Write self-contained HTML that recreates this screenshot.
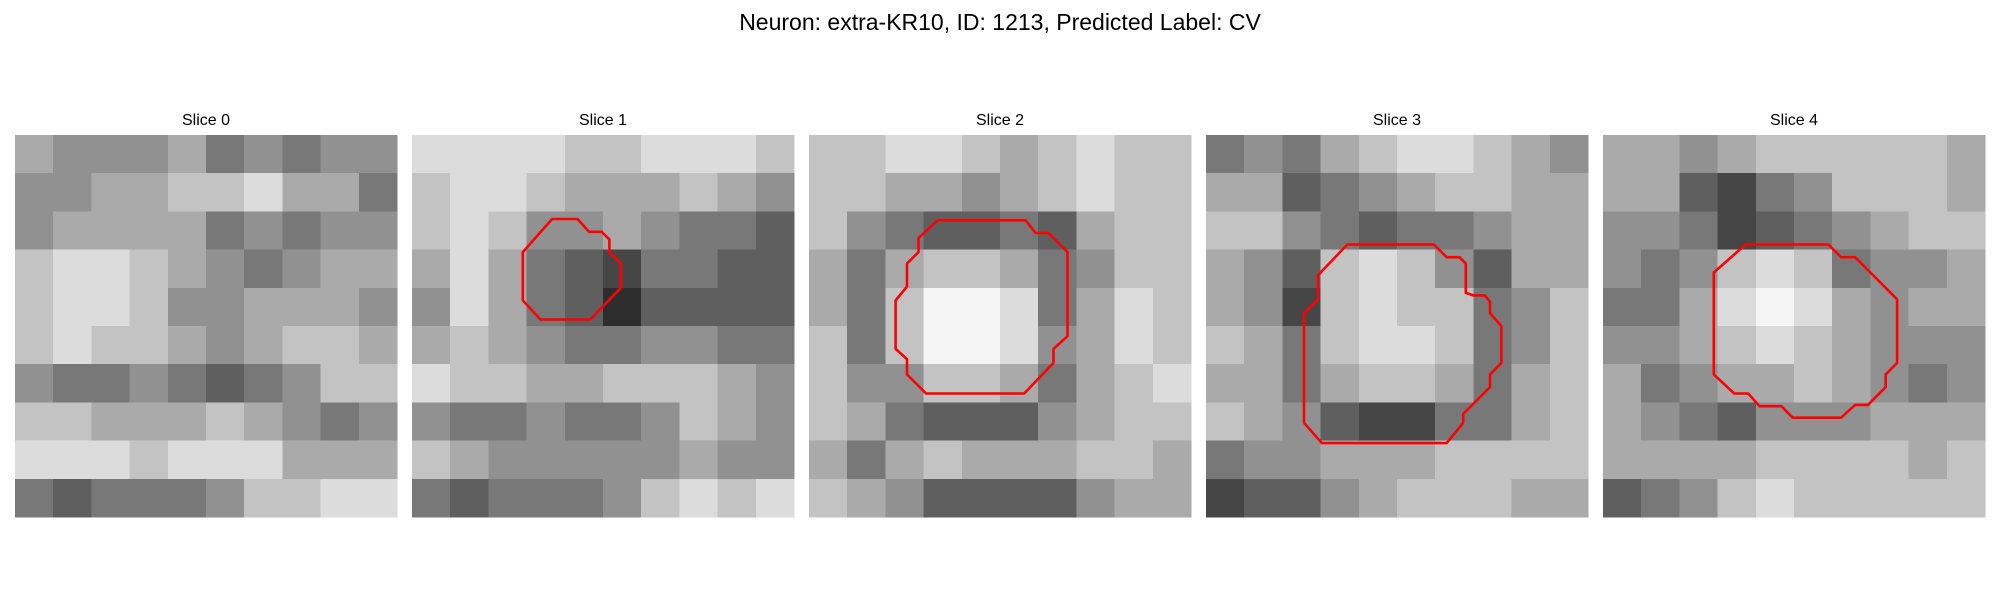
<!DOCTYPE html>
<html><head><meta charset="utf-8">
<style>
html,body{margin:0;padding:0;background:#fff;width:2000px;height:600px;overflow:hidden}
svg{display:block;font-family:"Liberation Sans","DejaVu Sans",sans-serif}
</style></head>
<body>
<svg id="fig" width="2000" height="600" viewBox="0 0 2000 600">
<text x="1000" y="30" text-anchor="middle" font-size="23" fill="#000">Neuron: extra-KR10, ID: 1213, Predicted Label: CV</text>
</svg>
<script>
const sliceTitles = ["Slice 0","Slice 1","Slice 2","Slice 3","Slice 4"];
const panelLefts = [15,412,809,1206,1603];
// coarse intensity grids (10x10, 0=black..9=white) per slice
const slice0 = [
[6,5,5,5,6,4,5,4,5,5],[5,5,6,6,7,7,8,6,6,4],[5,6,6,6,6,4,5,4,5,5],[7,8,8,7,6,5,4,5,6,6],[7,8,8,7,5,5,6,6,6,5],
[7,8,7,7,6,5,6,7,7,6],[5,4,4,5,4,3,4,5,7,7],[7,7,6,6,6,7,6,5,4,5],[8,8,8,7,8,8,8,6,6,6],[4,3,4,4,4,5,7,7,8,8]];
const slice1 = [
[8,8,8,8,7,7,8,8,8,7],[7,8,8,7,6,6,6,7,6,5],[7,8,7,5,5,6,5,4,4,3],[6,8,6,4,3,2,4,4,3,3],[5,8,6,4,3,1,3,3,3,3],
[6,7,6,5,4,4,5,5,4,4],[8,7,7,6,6,7,7,7,6,5],[5,4,4,5,4,4,5,7,6,5],[7,6,5,5,5,5,5,6,5,5],[4,3,4,4,4,5,7,8,7,8]];
const slice2 = [
[7,7,8,8,7,6,7,8,7,7],[7,7,6,6,5,6,7,8,7,7],[7,5,4,3,3,4,3,6,7,7],[6,4,6,7,7,6,4,5,7,7],[6,4,7,9,9,8,4,6,8,7],
[7,4,7,9,9,8,5,6,8,7],[7,5,5,7,7,6,4,6,7,8],[7,6,4,3,3,3,5,6,7,7],[6,4,6,7,6,6,6,7,7,6],[7,6,5,3,3,3,3,5,6,6]];
const slice3 = [
[4,5,4,6,7,8,8,7,6,5],[6,6,3,4,5,6,7,7,6,6],[7,7,5,4,3,4,4,5,6,6],[6,5,3,7,8,7,5,3,6,6],[6,5,2,7,8,7,7,4,5,7],
[7,6,4,7,8,8,7,4,5,7],[6,6,4,6,7,7,6,4,6,7],[7,6,5,3,2,2,4,4,6,7],[4,5,5,6,6,6,7,7,7,7],[2,3,3,5,6,7,7,7,6,6]];
const slice4 = [
[6,6,5,6,7,7,7,7,7,6],[6,6,3,2,4,5,7,7,7,6],[5,5,4,2,3,4,5,6,7,7],[5,4,5,7,8,7,4,5,5,6],[4,4,6,8,9,8,6,5,6,6],
[5,5,6,7,8,7,6,5,5,5],[6,4,5,6,6,7,6,5,4,5],[6,5,4,3,5,5,5,6,6,6],[6,6,6,6,7,7,7,7,6,7],[3,4,5,7,8,7,7,7,7,7]];
const grids = [slice0,slice1,slice2,slice3,slice4];
// contours in 30x30 pixel coordinates
const contour1 = [[11,6.6],[13,6.6],[13.9,7.6],[14.9,7.6],[15.5,8.2],[15.5,9.2],[16.4,10.1],[16.4,12],[14,14.5],[10.1,14.5],[8.7,13],[8.7,9.2]];
const contour2 = [[10.1,6.7],[17,6.7],[17.8,7.7],[18.8,7.7],[20.3,9.2],[20.3,15.8],[19.2,16.8],[19.2,17.9],[16.9,20.3],[9.2,20.3],[7.7,18.8],[7.7,17.6],[6.8,16.8],[6.8,13],[7.7,11.9],[7.7,10.1],[8.6,9.2],[8.6,8.1]];
const contour3 = [[11.1,8.6],[17.9,8.6],[18.9,9.6],[19.9,9.6],[20.4,10.1],[20.4,12.4],[21,12.6],[21.9,12.6],[22.3,13.1],[22.3,14],[23.2,15],[23.2,17.9],[22.3,18.8],[22.3,19.8],[20.2,21.9],[20.2,22.6],[18.9,24.2],[9.1,24.2],[7.7,22.6],[7.7,14],[8.8,12.9],[8.8,11]];
const contour4 = [[11.2,8.6],[17.7,8.6],[18.7,9.6],[19.8,9.6],[23.1,12.9],[23.1,17.9],[22.2,18.8],[22.2,19.8],[20.8,21.2],[19.8,21.2],[18.7,22.2],[14.9,22.2],[14,21.3],[12.3,21.3],[11.4,20.3],[10.3,20.3],[8.7,18.8],[8.7,10.8]];
const contours = [null,contour1,contour2,contour3,contour4];

const NS = "http://www.w3.org/2000/svg";
const svg = document.getElementById('fig');
const TOP = 135, SIZE = 382;
function gray(v){ const g = Math.round(20 + v*25); return `rgb(${g},${g},${g})`; }
grids.forEach((grid, p) => {
  const g = document.createElementNS(NS,'g');
  
  
  svg.appendChild(g);
  const left = panelLefts[p];
  const t = document.createElementNS(NS,'text');
  
  
  t.setAttribute('x', left + SIZE/2); t.setAttribute('y', 125);
  t.setAttribute('text-anchor','middle'); t.setAttribute('font-size','16');
  t.textContent = sliceTitles[p];
  g.appendChild(t);
  const n = grid.length, cs = SIZE / n;
  grid.forEach((row, r) => row.forEach((v, c) => {
    const rc = document.createElementNS(NS,'rect');
    
    
    rc.setAttribute('x', (left + c*cs).toFixed(2));
    rc.setAttribute('y', (TOP + r*cs).toFixed(2));
    rc.setAttribute('width', (cs+0.6).toFixed(2));
    rc.setAttribute('height', (cs+0.6).toFixed(2));
    rc.setAttribute('fill', gray(v));
    rc.setAttribute('shape-rendering','crispEdges');
    g.appendChild(rc);
  }));
  const ct = contours[p];
  if (ct) {
    const px = SIZE/30;
    const pts = ct.map(([x,y]) => (left + x*px).toFixed(1) + ',' + (TOP + y*px).toFixed(1)).join(' ');
    const pg = document.createElementNS(NS,'polygon');
    
    
    pg.setAttribute('points', pts);
    pg.setAttribute('fill','none'); pg.setAttribute('stroke','#ff0000');
    pg.setAttribute('stroke-width','2.6'); pg.setAttribute('stroke-linejoin','round');
    g.appendChild(pg);
  }
});
</script>
</body></html>
